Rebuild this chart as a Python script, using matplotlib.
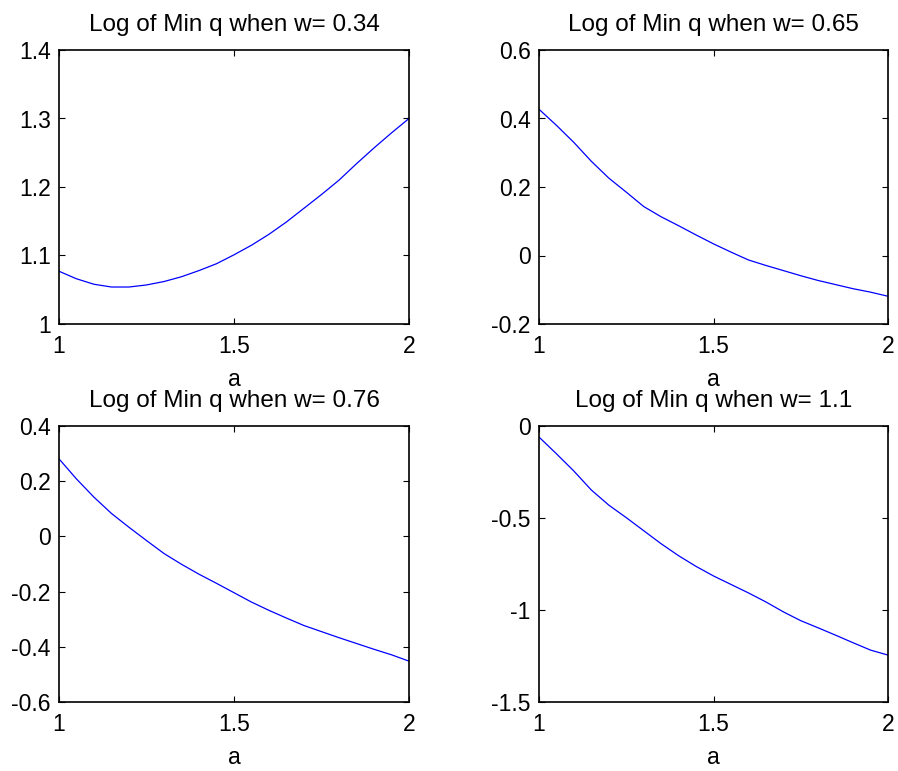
import numpy as np
import matplotlib
matplotlib.use("Agg")
import matplotlib.pyplot as plt

plt.rcParams['font.family'] = ['Liberation Sans', 'DejaVu Sans']

# a 轴取值
a_vals = [1.00, 1.05, 1.10, 1.15, 1.20, 1.25, 1.30, 1.35, 1.40, 1.45, 1.50,
          1.55, 1.60, 1.65, 1.70, 1.75, 1.80, 1.85, 1.90, 1.95, 2.00]

# 各 w 下 log(min q) 的估计值
w_list = ["0.34", "0.65", "0.76", "1.1"]
logq_034 = [1.077, 1.066, 1.058, 1.054, 1.054, 1.057, 1.062, 1.069, 1.078, 1.088, 1.101,
            1.115, 1.131, 1.149, 1.169, 1.189, 1.210, 1.234, 1.257, 1.279, 1.300]
logq_065 = [0.427, 0.380, 0.330, 0.275, 0.226, 0.185, 0.143, 0.113, 0.087, 0.060, 0.034,
            0.010, -0.013, -0.029, -0.044, -0.059, -0.073, -0.085, -0.097, -0.107, -0.119]
logq_076 = [0.281, 0.208, 0.142, 0.083, 0.033, -0.015, -0.062, -0.101, -0.137, -0.170, -0.204,
            -0.238, -0.268, -0.296, -0.323, -0.345, -0.367, -0.388, -0.409, -0.429, -0.452]
logq_110 = [-0.060, -0.151, -0.245, -0.348, -0.430, -0.498, -0.569, -0.640, -0.705, -0.763, -0.815,
            -0.861, -0.907, -0.956, -1.010, -1.058, -1.097, -1.137, -1.178, -1.218, -1.245]

series = [logq_034, logq_065, logq_076, logq_110]
ylims = [(1, 1.4), (-0.2, 0.6), (-0.6, 0.4), (-1.5, 0)]
yticks = [[1, 1.1, 1.2, 1.3, 1.4],
          [-0.2, 0, 0.2, 0.4, 0.6],
          [-0.6, -0.4, -0.2, 0, 0.2, 0.4],
          [-1.5, -1, -0.5, 0]]
yticklabels = [["1", "1.1", "1.2", "1.3", "1.4"],
               ["-0.2", "0", "0.2", "0.4", "0.6"],
               ["-0.6", "-0.4", "-0.2", "0", "0.2", "0.4"],
               ["-1.5", "-1", "-0.5", "0"]]
xticks = [1, 1.5, 2]
xticklabels = ["1", "1.5", "2"]

W, H = 898, 771
fig = plt.figure(figsize=(W / 100, H / 100), dpi=100)

# 子图位置（像素）：左、上、右、下
boxes = [(59, 50, 409, 324), (539, 50, 888, 324),
         (59, 426, 409, 702), (539, 426, 888, 702)]

for i in range(4):
    l, t, r, b = boxes[i]
    ax = fig.add_axes([l / W, 1 - b / H, (r - l) / W, (b - t) / H])
    ax.plot(a_vals, series[i], color=(0, 0, 1), linewidth=0.9)
    ax.set_xlim(1, 2)
    ax.set_ylim(*ylims[i])
    ax.set_xticks(xticks)
    ax.set_xticklabels(xticklabels)
    ax.set_yticks(yticks[i])
    ax.set_yticklabels(yticklabels[i])
    ax.tick_params(direction='in', top=True, right=True, length=4, width=0.8,
                   labelsize=16.5)
    ax.tick_params(axis='x', pad=8)
    ax.tick_params(axis='y', pad=6)
    for s in ax.spines.values():
        s.set_linewidth(1.2)
    ax.set_title("Log of Min q when w= " + w_list[i], fontsize=17.5, pad=14)
    ax.set_xlabel("a", fontsize=16.5, labelpad=7)

fig.savefig("out.png", dpi=100, facecolor="white")
